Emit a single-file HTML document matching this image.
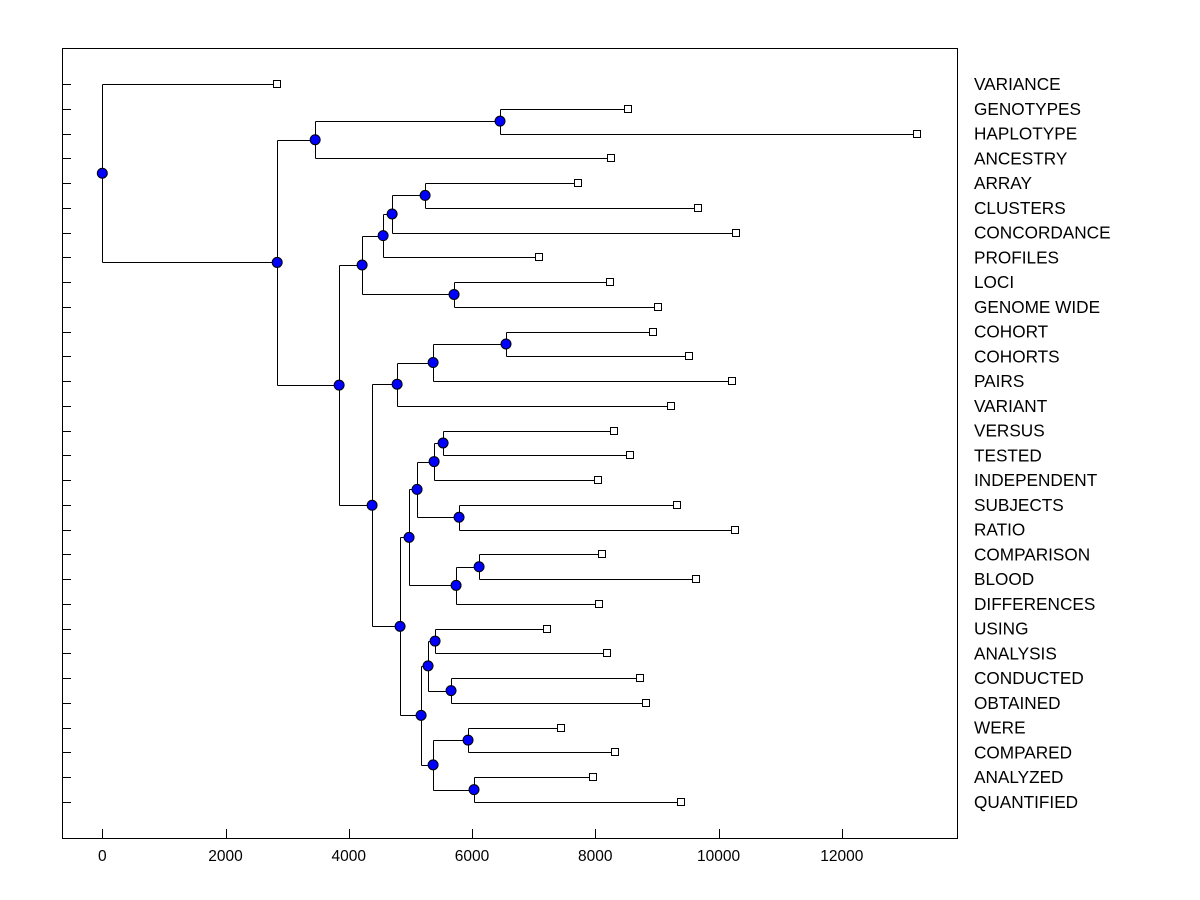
<!DOCTYPE html>
<html><head><meta charset="utf-8"><style>
html,body{margin:0;padding:0;background:#fff;}
svg{display:block;font-family:"Liberation Sans",Arial,sans-serif;}
</style></head><body>
<svg id="chart" width="1200" height="900" viewBox="0 0 1200 900"></svg>
<script>
const labels = ["VARIANCE","GENOTYPES","HAPLOTYPE","ANCESTRY","ARRAY","CLUSTERS","CONCORDANCE","PROFILES","LOCI","GENOME WIDE","COHORT","COHORTS","PAIRS","VARIANT","VERSUS","TESTED","INDEPENDENT","SUBJECTS","RATIO","COMPARISON","BLOOD","DIFFERENCES","USING","ANALYSIS","CONDUCTED","OBTAINED","WERE","COMPARED","ANALYZED","QUANTIFIED"];
const leafValues = [2838,8530,13216,8254,7719,9665,10281,7086,8238,9016,8935,9519,10216,9227,8303,8562,8043,9324,10265,8108,9632,8059,7216,8189,8724,8822,7443,8319,7962,9389];
// internal nodes: [name, value, childA, childB]; children are leaf indices (numbers) or node names (strings)
const nodeNames = ["root","A","B","D","C","E","G","I","J","H","F","K","M","N","L","O","Q","S","U","T","R","V","P","W","Y","Z","X","AA","AB"];
const nodeValues = [0,2838,3454,6454,3843,4216,4557,4703,5238,5708,4378,4784,5368,6551,4832,4978,5108,5384,5530,5789,5741,6114,5173,5286,5400,5659,5368,5935,6032];
const nodeChildren = [[0,"A"],["B","C"],["D",3],[1,2],["E","F"],["G","H"],["I",7],["J",6],[4,5],[8,9],["K","L"],["M",13],["N",12],[10,11],["O","P"],["Q","R"],["S","T"],["U",16],[14,15],[17,18],["V",21],[19,20],["W","X"],["Y","Z"],[22,23],[24,25],["AA","AB"],[26,27],[28,29]];
const xTicks = [0,2000,4000,6000,8000,10000,12000];

const NS="http://www.w3.org/2000/svg";
const svg=document.getElementById('chart');
const L=62,R=957,T=48,B=838;
const xs=v=>102.3+v*(739.5/12000);
const ys=i=>84+i*(718/29);
function mk(tag,attrs,parent){const e=document.createElementNS(NS,tag);for(const k in attrs)e.setAttribute(k,attrs[k]);(parent||svg).appendChild(e);return e;}

const frame=mk('rect',{x:L+0.5,y:T+0.5,width:R-L,height:B-T,fill:'none',stroke:'#000','stroke-width':1});



labels.forEach((lab,i)=>{
  const y=Math.round(ys(i))+0.5;
  const t=mk('line',{x1:L,x2:L+9,y1:y,y2:y,stroke:'#000'});
  
  
  const tx=mk('text',{x:974,y:ys(i)+6,'font-size':17.2,fill:'#000'});
  tx.textContent=lab;
  
  
});
xTicks.forEach(v=>{
  const x=Math.round(xs(v))+0.5;
  const t=mk('line',{x1:x,x2:x,y1:B,y2:B-9,stroke:'#000'});
  
  
  const tx=mk('text',{x:xs(v),y:861,'font-size':15.5,'text-anchor':'middle',fill:'#000'});
  tx.textContent=v;
  
  
});

const pos={};
function place(c){
  if(typeof c==='number') return {x:xs(leafValues[c]),y:ys(c)};
  if(pos[c]) return pos[c];
  const k=nodeNames.indexOf(c);
  const a=place(nodeChildren[k][0]),b=place(nodeChildren[k][1]);
  pos[c]={x:xs(nodeValues[k]),y:(a.y+b.y)/2,a,b};
  return pos[c];
}
nodeNames.forEach(n=>place(n));
const g=mk('g',{});
nodeNames.forEach(n=>{
  const p=pos[n];
  const x=Math.round(p.x)+0.5;
  const v=mk('line',{x1:x,x2:x,y1:Math.round(p.a.y)+0.5,y2:Math.round(p.b.y)+0.5,stroke:'#000'},g);
  
  
  [p.a,p.b].forEach(c=>{
    const h=mk('line',{x1:x,x2:Math.round(c.x)+0.5,y1:Math.round(c.y)+0.5,y2:Math.round(c.y)+0.5,stroke:'#000'},g);
    
    
  });
});
leafValues.forEach((v,i)=>{
  const r=mk('rect',{x:Math.round(xs(v))-3.5,y:Math.round(ys(i))-3.5,width:7,height:7,fill:'#fff',stroke:'#000'});
  
  
});
nodeNames.forEach(n=>{
  const p=pos[n];
  const c=mk('circle',{cx:p.x,cy:p.y,r:5,fill:'#0000ff',stroke:'#000','stroke-width':1});
  
  
});
</script>
</body></html>
